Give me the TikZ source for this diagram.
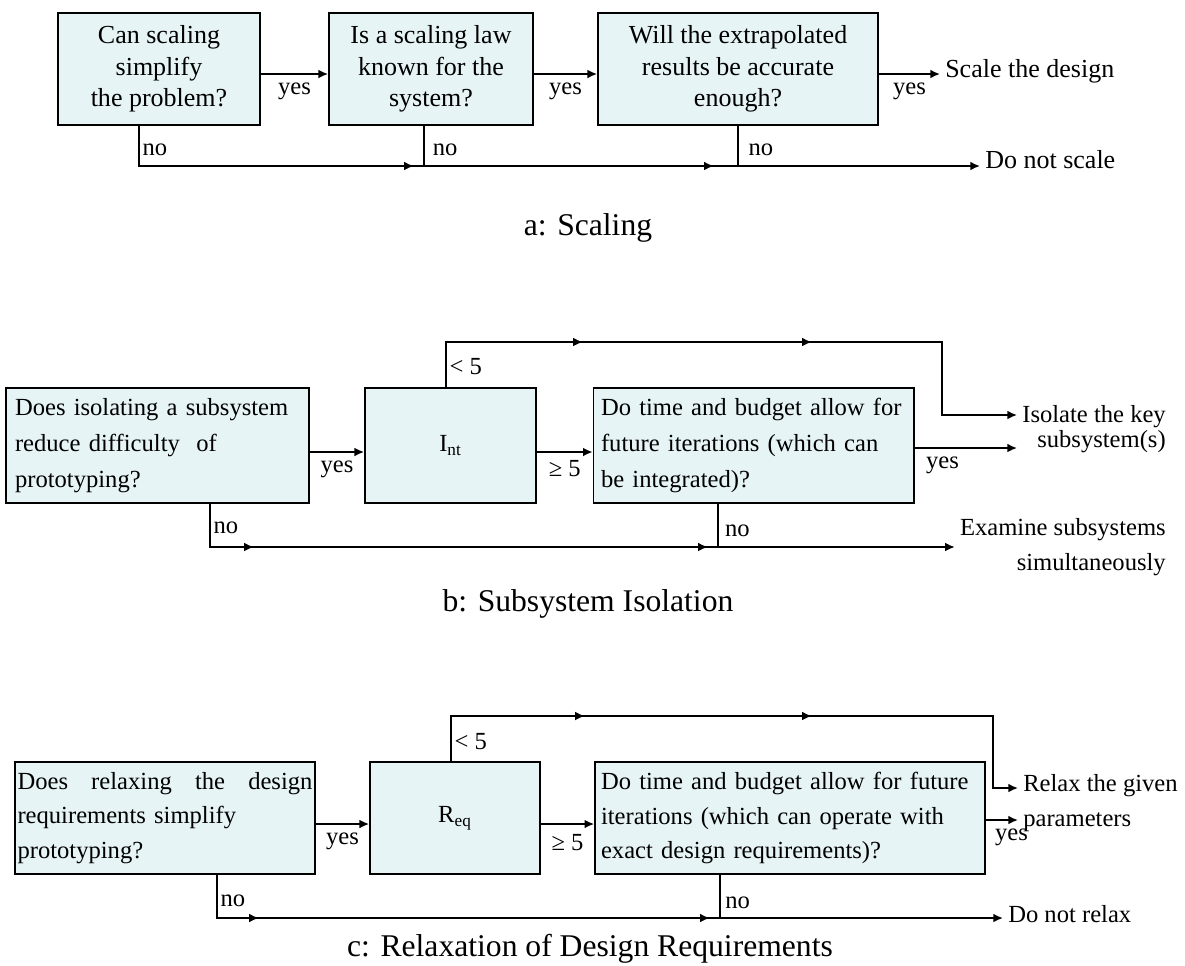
\documentclass[tikz,border=0pt]{standalone}
\usepackage{fontspec}
\setmainfont{Liberation Serif}
\usepackage{amsmath}
\usetikzlibrary{arrows.meta,decorations.markings}

\definecolor{qfill}{RGB}{230,244,246}

\tikzset{
  >={Latex[length=5.5pt,width=5pt]},
  qbox/.style={draw, fill=qfill, line width=1pt, minimum height=2.24cm, inner sep=1.5pt, font=\fontsize{14}{18}\selectfont},
  lbl/.style={inner sep=1.5pt, font=\fontsize{14}{16}\selectfont},
  outc/.style={inner xsep=2.8pt, inner ysep=0pt, font=\fontsize{14}{18}\selectfont},
  captxt/.style={inner sep=0pt, font=\fontsize{18}{20}\selectfont},
  wire/.style={line width=1pt},
  twotips/.style 2 args={postaction={decorate}, decoration={markings,
      mark=at position #1 with {\arrow{>}},
      mark=at position #2 with {\arrow{>}}}},
}

\begin{document}
\begin{tikzpicture}[x=0.02cm, y=-0.02cm]
\useasboundingbox (0,0) rectangle (1185,965);

%% a: Scaling
\def\ya{74}; % yes arrows
\def\yna{166}; % no line

\tikzset{abig/.style={font=\fontsize{14.8}{18}\selectfont}}
\node[qbox, abig, minimum width=4.04cm, align=center] (scl) at (159,69) {Can scaling\\ simplify\\ the problem?};
\node[qbox, abig, minimum width=4.08cm, align=center] (law) at (431,69) {Is a scaling law\\ known for the\\ system?};
\node[qbox, abig, minimum width=5.6cm, align=center] (acc) at (738,69) {Will the extrapolated\\ results be accurate\\ enough?};
\node[outc, abig, anchor=west] (sdes) at (940,71) {Scale the design};
\node[outc, abig, anchor=west] (nosc) at (980,160) {Do not scale};

\coordinate (ya) at (0,\ya);
\coordinate (na1) at (139,\yna);
\coordinate (na2) at (424,\yna);
\coordinate (na3) at (738,\yna);

\draw[wire,->] (scl.east |- ya) -- node[lbl,below=3pt]{yes} (law.west |- ya);
\draw[wire,->] (law.east |- ya) -- node[lbl,below=3pt]{yes} (acc.west |- ya);
\draw[wire,->] (acc.east |- ya) -- node[lbl,below=3pt]{yes} (sdes.west |- ya);

\draw[wire,->,twotips={6.3cm}{12.3cm}] (scl.south -| na1) -- node[lbl,right=0pt,pos=0.6]{no} (na1) -- (nosc.west |- na1);
\draw[wire] (law.south -| na2) -- node[lbl,right=3pt,pos=0.6]{no} (na2);
\draw[wire] (acc.south -| na3) -- node[lbl,right=4pt,pos=0.6]{no} (na3);

\node[captxt, anchor=base] (capa) at (588,235) {a: Scaling};

%% b: Subsystem Isolation
\def\ytb{342}; % top line
\def\ynb{547}; % no line

\node[qbox, minimum height=2.3cm, inner xsep=0.18cm, text width=5.7cm, align=left,
  font=\fontsize{14}{20.5}\selectfont] (sub) at (157.5,445.5)
  {Does isolating a subsystem\\ reduce difficulty\ \ of\\ prototyping?};
\node[qbox, minimum height=2.3cm, minimum width=3.42cm] (int) at (450.5,445.5) {I$_{\text{nt}}$};
\node[qbox, minimum height=2.3cm, inner xsep=0.15cm, text width=6.11cm, align=left,
  font=\fontsize{14}{20.5}\selectfont] (fut) at (753.75,445.5)
  {Do time and budget allow for\\ future iterations (which can\\ be integrated)?};
\node[outc, anchor=east, align=right, font=\fontsize{14}{14}\selectfont] (isok) at (1171,429)
  {Isolate the key\\ subsystem(s)};
\node[outc, anchor=east, align=right, font=\fontsize{14}{19.8}\selectfont] (exam) at (1171,547)
  {Examine subsystems\\ simultaneously};

\coordinate (bu) at (446,\ytb);
\coordinate (bt) at (942,\ytb);
\coordinate (yb) at (0,452);
\coordinate (yf) at (0,448);
\coordinate (yk) at (0,415);
\coordinate (nb1) at (210,\ynb);
\coordinate (nb3) at (718,\ynb);

\draw[wire,->] (sub.east |- yb) -- node[lbl,below=3pt]{yes} (int.west |- yb);
\draw[wire,->] (int.east |- yb) -- node[lbl,below=3pt]{≥ 5} (fut.west |- yb);
\draw[wire,->] (fut.east |- yf) -- node[lbl,below=3pt,pos=0.27]{yes} (isok.west |- yf);

\draw[wire,->,twotips={3.64cm}{8.22cm}] (int.north -| bu) -- node[lbl,right=0pt,pos=0.46]{< 5} (bu) -- (bt) |- (isok.west |- yk);

\draw[wire,->,twotips={1.74cm}{10.82cm}] (sub.south -| nb1) -- node[lbl,right=0pt,pos=0.55]{no} (nb1) -- (exam.west |- nb1);
\draw[wire] (fut.south -| nb3) -- node[lbl,right=2pt,pos=0.63]{no} (nb3);

\node[captxt, anchor=base] (capb) at (588,611) {b: Subsystem Isolation};

%% c: Relaxation of Design Requirements
\def\ytc{716}; % top line
\def\ync{918}; % no line

\node[qbox, inner xsep=0.05cm, text width=5.9cm, align=left,
  font=\fontsize{14}{19.5}\selectfont] (rlx) at (165,818)
  {Does\hfill relaxing\hfill the\hfill design\\ requirements simplify\\ prototyping?};
\node[qbox, minimum width=3.4cm] (req) at (455,818) {R$_{\text{eq}}$};
\node[qbox, inner xsep=0.12cm, text width=7.56cm, align=left,
  font=\fontsize{14}{19.5}\selectfont] (exa) at (790,818)
  {Do time and budget allow for future\\ iterations (which can operate with\\ exact design requirements)?};
\node[outc, anchor=west, align=left, font=\fontsize{14}{20.4}\selectfont] (rel) at (1018,803)
  {Relax the given\\ parameters};
\node[outc, anchor=west] (norl) at (1003,914) {Do not relax};

\coordinate (cu) at (451,\ytc);
\coordinate (ct) at (993,\ytc);
\coordinate (yc) at (0,824);
\coordinate (ye) at (0,820);
\coordinate (yr) at (0,788);
\coordinate (nc1) at (217,\ync);
\coordinate (nc3) at (720,\ync);

\draw[wire,->] (rlx.east |- yc) -- node[lbl,below=3pt]{yes} (req.west |- yc);
\draw[wire,->] (req.east |- yc) -- node[lbl,below=4pt]{≥ 5} (exa.west |- yc);
\draw[wire,->] (exa.east |- ye) -- node[lbl,below=3pt,pos=0.8]{yes} (rel.west |- ye);

\draw[wire,->,twotips={3.58cm}{8.12cm}] (req.north -| cu) -- node[lbl,right=0pt,pos=0.43]{< 5} (cu) -- (ct) |- (rel.west |- yr);

\draw[wire,->,twotips={1.7cm}{10.72cm}] (rlx.south -| nc1) -- node[lbl,right=0pt,pos=0.59]{no} (nc1) -- (norl.west |- nc1);
\draw[wire] (exa.south -| nc3) -- node[lbl,right=1pt,pos=0.64]{no} (nc3);

\node[captxt, anchor=base] (capc) at (590,956) {c: Relaxation of Design Requirements};

\end{tikzpicture}
\end{document}
